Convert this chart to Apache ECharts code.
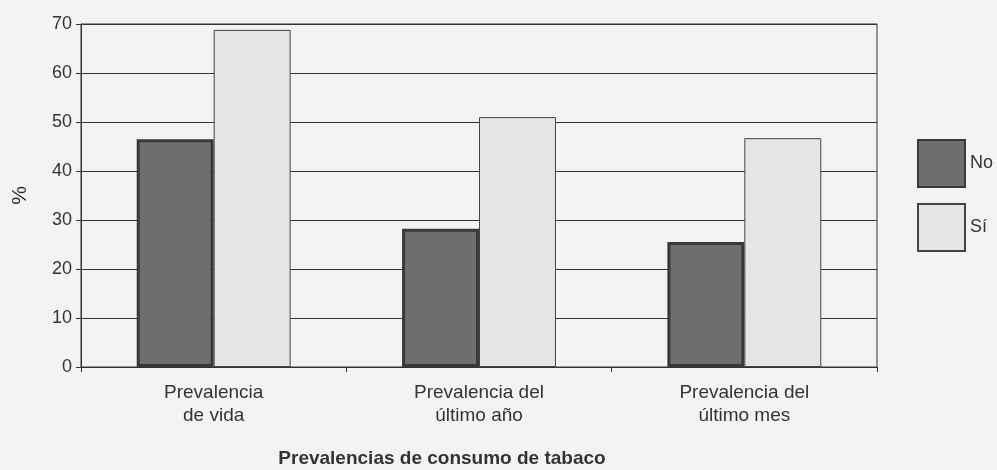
<!DOCTYPE html>
<html>
<head>
<meta charset="utf-8">
<script src="https://cdn.jsdelivr.net/npm/echarts@6/dist/echarts.min.js"></script>
<style>
html,body{margin:0;padding:0;background:#f3f3f3;}
#chart{width:997px;height:470px;}
</style>
</head>
<body>
<div id="chart"></div>
<script>
const categories = ['Prevalencia\nde vida', 'Prevalencia del\núltimo año', 'Prevalencia del\núltimo mes'];
const seriesNames = ['No', 'Sí'];
const valuesNo = [46.5, 28.2, 25.5];
const valuesSi = [68.8, 51.0, 46.7];
const yTicks = [0, 10, 20, 30, 40, 50, 60, 70];

const chart = echarts.init(document.getElementById('chart'));
const font = '"Liberation Sans", Arial, sans-serif';
chart.setOption({
  backgroundColor: '#f3f3f3',
  animation: false,
  textStyle: { fontFamily: font },
  title: {
    text: 'Prevalencias de consumo de tabaco',
    left: 442, top: 449,
    textAlign: 'center',
    padding: 0,
    textStyle: { fontFamily: font, fontSize: 19, fontWeight: 'bold', color: '#333' }
  },
  legend: {
    orient: 'vertical',
    left: 917, top: 139,
    padding: 0,
    itemWidth: 47, itemHeight: 47, itemGap: 15,
    icon: 'rect',
    textStyle: { fontFamily: font, fontSize: 18, color: '#333' },
    data: seriesNames
  },
  grid: {
    left: 81, right: 120, top: 24, bottom: 103,
    outerBoundsMode: 'none',
    containLabel: false,
    show: true, borderColor: '#333', borderWidth: 1, backgroundColor: 'transparent'
  },
  xAxis: {
    type: 'category',
    data: categories,
    axisLine: { lineStyle: { color: '#333', width: 1 } },
    axisTick: { show: true, length: 5, lineStyle: { color: '#333' } },
    axisLabel: { fontFamily: font, fontSize: 19, color: '#333', margin: 14, lineHeight: 23 },
    splitLine: { show: false }
  },
  yAxis: {
    type: 'value',
    min: yTicks[0], max: yTicks[yTicks.length - 1], interval: 10,
    name: '%',
    nameLocation: 'middle',
    nameGap: 50,
    nameRotate: 90,
    nameTextStyle: { fontFamily: font, fontSize: 21, color: '#333' },
    axisLine: { show: true, lineStyle: { color: '#333', width: 1 } },
    axisTick: { show: true, length: 5, lineStyle: { color: '#333' } },
    axisLabel: { fontFamily: font, fontSize: 18, color: '#333', margin: 9 },
    splitLine: { show: true, lineStyle: { color: '#333', width: 1 } }
  },
  series: [
    {
      name: seriesNames[0], type: 'bar', data: valuesNo,
      barGap: '0%', barCategoryGap: '42%',
      itemStyle: { color: '#6e6e6e', borderColor: '#383838', borderWidth: 3 }
    },
    {
      name: seriesNames[1], type: 'bar', data: valuesSi,
      barGap: '0%', barCategoryGap: '42%',
      itemStyle: { color: '#e5e5e5', borderColor: '#444', borderWidth: 1 }
    }
  ]
});
</script>
</body>
</html>
